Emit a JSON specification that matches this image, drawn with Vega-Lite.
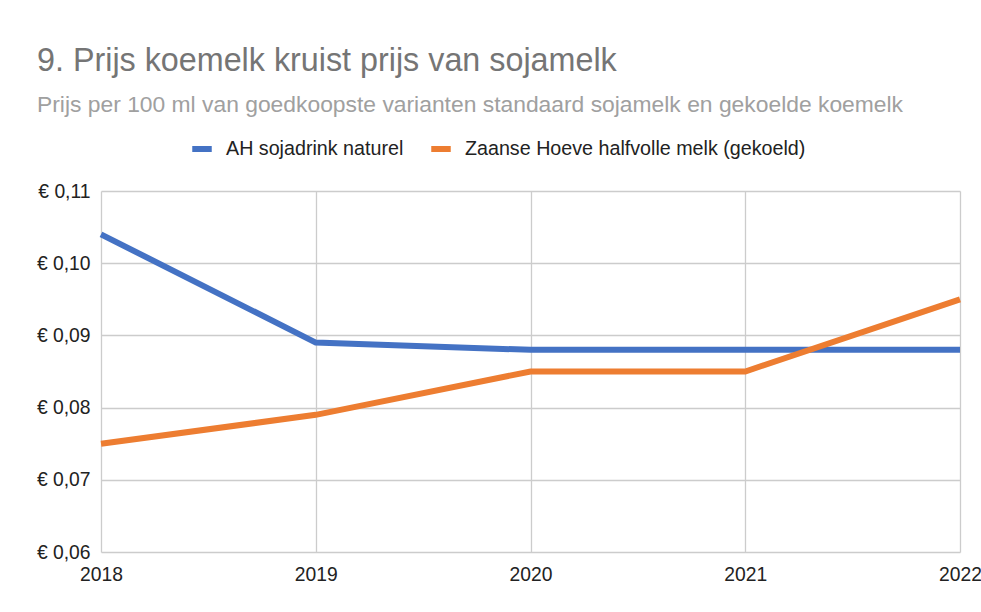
{
  "$schema": "https://vega.github.io/schema/vega-lite/v6.json",
  "width": 859,
  "height": 361,
  "autosize": {"type": "none"},
  "padding": {"left": 101, "top": 191, "right": 21, "bottom": 60},
  "background": "white",
  "title": {
    "text": "9. Prijs koemelk kruist prijs van sojamelk",
    "subtitle": "Prijs per 100 ml van goedkoopste varianten standaard sojamelk en gekoelde koemelk",
    "anchor": "start",
    "frame": "group",
    "dx": -64,
    "offset": 19,
    "font": "Liberation Sans",
    "fontSize": 32.3,
    "fontWeight": "normal",
    "color": "#757575",
    "subtitleFont": "Liberation Sans",
    "subtitleFontSize": 22.85,
    "subtitleColor": "#a0a0a0",
    "subtitlePadding": 17
  },
  "data": {
    "values": [
      {"jaar": 2018, "product": "AH sojadrink naturel", "prijs": 0.104},
      {"jaar": 2019, "product": "AH sojadrink naturel", "prijs": 0.089},
      {"jaar": 2020, "product": "AH sojadrink naturel", "prijs": 0.088},
      {"jaar": 2021, "product": "AH sojadrink naturel", "prijs": 0.088},
      {"jaar": 2022, "product": "AH sojadrink naturel", "prijs": 0.088},
      {"jaar": 2018, "product": "Zaanse Hoeve halfvolle melk (gekoeld)", "prijs": 0.075},
      {"jaar": 2019, "product": "Zaanse Hoeve halfvolle melk (gekoeld)", "prijs": 0.079},
      {"jaar": 2020, "product": "Zaanse Hoeve halfvolle melk (gekoeld)", "prijs": 0.085},
      {"jaar": 2021, "product": "Zaanse Hoeve halfvolle melk (gekoeld)", "prijs": 0.085},
      {"jaar": 2022, "product": "Zaanse Hoeve halfvolle melk (gekoeld)", "prijs": 0.095}
    ]
  },
  "mark": {"type": "line", "strokeWidth": 6},
  "encoding": {
    "x": {
      "field": "jaar",
      "type": "quantitative",
      "scale": {"domain": [2018, 2022], "nice": false, "zero": false},
      "axis": {
        "values": [2018, 2019, 2020, 2021, 2022],
        "format": "d",
        "title": null,
        "labelFlush": false,
        "labelPadding": 13,
        "labelOverlap": false
      }
    },
    "y": {
      "field": "prijs",
      "type": "quantitative",
      "scale": {"domain": [0.06, 0.11], "nice": false, "zero": false},
      "axis": {
        "values": [0.06, 0.07, 0.08, 0.09, 0.1, 0.11],
        "labelExpr": "'€ ' + replace(format(datum.value, '.2f'), '.', ',')",
        "title": null,
        "labelPadding": 11,
        "labelOverlap": false
      }
    },
    "color": {
      "field": "product",
      "type": "nominal",
      "scale": {
        "domain": ["AH sojadrink naturel", "Zaanse Hoeve halfvolle melk (gekoeld)"],
        "range": ["#4472c4", "#ed7d31"]
      },
      "legend": {
        "orient": "none",
        "direction": "horizontal",
        "legendX": 88,
        "legendY": -55,
        "title": null,
        "symbolType": "stroke",
        "symbolSize": 380,
        "symbolStrokeWidth": 6,
        "labelOffset": 11,
        "columnPadding": 15,
        "padding": 0,
        "labelFont": "Liberation Sans",
        "labelFontSize": 19.7,
        "labelColor": "#222222",
        "labelLimit": 500
      }
    }
  },
  "config": {
    "view": {"stroke": null},
    "axis": {
      "domain": false,
      "ticks": false,
      "grid": true,
      "gridColor": "#cccccc",
      "gridWidth": 1.3,
      "labelFont": "Liberation Sans",
      "labelFontSize": 19.3,
      "labelColor": "#222222"
    }
  }
}
